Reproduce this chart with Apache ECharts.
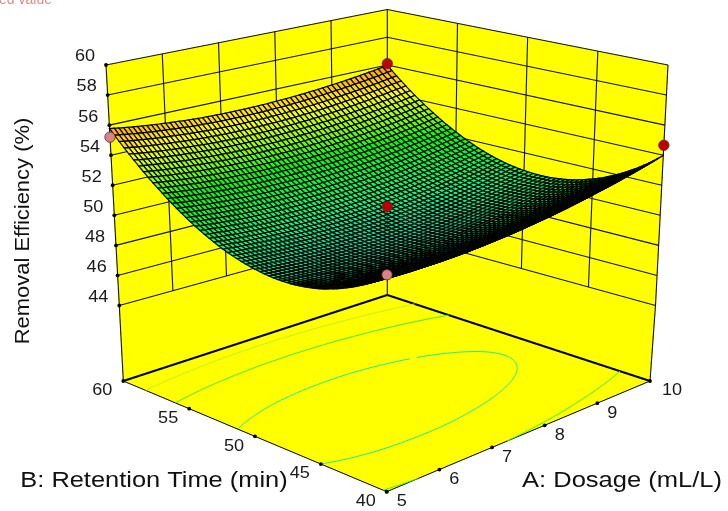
<!DOCTYPE html>
<html><head><meta charset="utf-8">
<style>html,body{margin:0;padding:0;background:#fff}#c{width:728px;height:511px}</style>
<script src="https://cdn.jsdelivr.net/npm/echarts@6/dist/echarts.min.js"></script>
</head><body><div id="c"></div>
<script>
// ---- data ----
const dosageTicks = [5, 6, 7, 8, 9, 10];
const timeTicks = [40, 45, 50, 55, 60];
const efficiencyTicks = [44, 46, 48, 50, 52, 54, 56, 58, 60];
const gridDosage = [5, 5.5, 6, 6.5, 7, 7.5, 8, 8.5, 9, 9.5, 10];
const gridTime = [40, 42, 44, 46, 48, 50, 52, 54, 56, 58, 60];
// one row per gridTime entry, one column per gridDosage entry
const surfaceEfficiency = [
  [52.68,52.52,52.44,52.41,52.45,52.55,52.71,52.93,53.22,53.56,53.98],
  [51.47,51.31,51.21,51.17,51.20,51.29,51.44,51.65,51.93,52.26,52.66],
  [50.61,50.43,50.32,50.28,50.29,50.37,50.51,50.71,50.97,51.30,51.69],
  [50.08,49.89,49.77,49.71,49.72,49.78,49.91,50.10,50.35,50.67,51.05],
  [49.88,49.69,49.56,49.49,49.48,49.53,49.65,49.83,50.07,50.38,50.74],
  [50.03,49.82,49.68,49.59,49.58,49.62,49.73,49.89,50.13,50.42,50.78],
  [50.50,50.29,50.13,50.04,50.01,50.04,50.14,50.30,50.52,50.80,51.14],
  [51.32,51.09,50.92,50.82,50.78,50.80,50.89,51.03,51.24,51.51,51.85],
  [52.47,52.23,52.05,51.94,51.89,51.90,51.97,52.11,52.30,52.56,52.89],
  [53.95,53.70,53.52,53.39,53.33,53.33,53.39,53.51,53.70,53.95,54.26],
  [55.78,55.51,55.32,55.18,55.11,55.10,55.15,55.26,55.44,55.67,55.98]
];
const contourLevels = [50.3, 52.5, 54.2];
const contourColors = ['#10f0a0', '#30f040', '#c0f020'];
const pointDosage = [5, 10, 10, 5, 7.5];
const pointTime = [60, 60, 40, 40, 50];
const pointEfficiency = [55.2, 56.1, 54.66, 52.8, 51.2];
const pointBelow = [1, 0, 0, 1, 0];
const FLOOR = 39, LOW = 44, TOP = 60;

// ---- projection: the box is linear along every edge, so points blend its corners ----
// corner order: [A5 B40], [A10 B40], [A5 B60], [A10 B60]
const cornersFloor = [[386.7,491.7],[650,381],[123.3,381],[387.3,295]];
const cornersLow   = [[387,415],[655.5,305.5],[119.3,305.5],[387.3,231.5]];
const cornersTop   = [[387,160],[668,65],[106,65],[387.3,9.5]];
function blend(c,a,b){
  return [0,1].map(k=>(c[0][k]*(1-a)+c[1][k]*a)*(1-b)+(c[2][k]*(1-a)+c[3][k]*a)*b);
}
function proj(A,B,Z){
  const a=(A-5)/5,b=(B-40)/20;
  const lo=Z<LOW?blend(cornersFloor,a,b):blend(cornersLow,a,b);
  const hi=Z<LOW?blend(cornersLow,a,b):blend(cornersTop,a,b);
  const t=Z<LOW?(Z-FLOOR)/(LOW-FLOOR):(Z-LOW)/(TOP-LOW);
  return [lo[0]*(1-t)+hi[0]*t,lo[1]*(1-t)+hi[1]*t];
}
// smooth reading of the table between its entries, for drawing a fine mesh
function lag(f,x){
  return f[0]*(x-1)*(x-2)*(x-3)/-6+f[1]*x*(x-2)*(x-3)/2+f[2]*x*(x-1)*(x-3)/-2+f[3]*x*(x-1)*(x-2)/6;
}
function tableAt(u,v){
  const n=gridDosage.length,m=gridTime.length;
  const i=Math.max(0,Math.min(n-4,Math.floor(u)-1)),j=Math.max(0,Math.min(m-4,Math.floor(v)-1));
  const col=[0,1,2,3].map(k=>lag(surfaceEfficiency[j+k].slice(i,i+4),u-i));
  return lag(col,v-j);
}
const uOf=A=>(A-gridDosage[0])/(gridDosage[1]-gridDosage[0]);
const vOf=B=>(B-gridTime[0])/(gridTime[1]-gridTime[0]);
const stops=[[49.4,[0,215,170]],[50.3,[0,255,130]],[51.2,[0,255,60]],[52.3,[0,255,0]],[53.2,[130,255,0]],[54.5,[255,255,0]],[56,[255,150,0]]];
function rgb(z){
  if(z<=stops[0][0]) return 'rgb('+stops[0][1].join(',')+')';
  for(let i=1;i<stops.length;i++) if(z<=stops[i][0]){
    const t=(z-stops[i-1][0])/(stops[i][0]-stops[i-1][0]);
    return 'rgb('+stops[i][1].map((c,k)=>Math.round(stops[i-1][1][k]*(1-t)+c*t)).join(',')+')';
  }
  return 'rgb('+stops[stops.length-1][1].join(',')+')';
}

const SUB=6;
const cells=[];
for(let iA=gridDosage.length-2;iA>=0;iA--) for(let iB=gridTime.length-2;iB>=0;iB--) cells.push([iA,iB]);

const ink='#111';
function pt(api,p){ return api.coord(p); }
function seg(api,p,q,w,col){ const a=pt(api,p),b=pt(api,q); return {type:'line',shape:{x1:a[0],y1:a[1],x2:b[0],y2:b[1]},style:{stroke:col||ink,lineWidth:w}}; }
function seg3(api,p,q,w,col){ return seg(api,proj(p[0],p[1],p[2]),proj(q[0],q[1],q[2]),w,col); }
function dot(api,p,r){ const a=pt(api,p); return {type:'circle',shape:{cx:a[0],cy:a[1],r:r},style:{fill:'#000'}}; }
function label(api,p,text,dx,dy){ const a=pt(api,p); return {type:'text',x:a[0]+dx,y:a[1]+dy,scaleX:1.13,style:{x:0,y:0,text:String(text),fill:'#1a1a1a',font:'16px "Liberation Sans"',align:'center',verticalAlign:'middle'}}; }

const base={type:'custom',coordinateSystem:'cartesian2d',silent:true,clip:false,animation:false};

const series=[
  // yellow floor and walls
  Object.assign({},base,{data:[0],z:1,renderItem(_,api){
    const poly=(ps)=>({type:'polygon',shape:{points:ps.map(p=>pt(api,proj(p[0],p[1],p[2])))},style:{fill:'#ffff00',stroke:'#ffff00',lineWidth:.5}});
    return {type:'group',children:[
      poly([[5,60,FLOOR],[10,60,FLOOR],[10,40,FLOOR],[5,40,FLOOR]]),
      poly([[5,60,FLOOR],[10,60,FLOOR],[10,60,LOW],[5,60,LOW]]),
      poly([[5,60,LOW],[10,60,LOW],[10,60,TOP],[5,60,TOP]]),
      poly([[10,60,FLOOR],[10,40,FLOOR],[10,40,LOW],[10,60,LOW]]),
      poly([[10,60,LOW],[10,40,LOW],[10,40,TOP],[10,60,TOP]])
    ]};
  }}),
  // wall grid
  Object.assign({},base,{data:efficiencyTicks,z:2,renderItem(p,api){
    const z=efficiencyTicks[p.dataIndex];
    return {type:'group',children:[seg3(api,[5,60,z],[10,60,z],1.1),seg3(api,[10,60,z],[10,40,z],1.1)]};
  }}),
  Object.assign({},base,{data:dosageTicks.slice(1,-1),z:2,renderItem(p,api){
    const A=dosageTicks[p.dataIndex+1]; return seg3(api,[A,60,LOW],[A,60,TOP],1.1);
  }}),
  Object.assign({},base,{data:timeTicks.slice(1,-1),z:2,renderItem(p,api){
    const B=timeTicks[p.dataIndex+1]; return seg3(api,[10,B,LOW],[10,B,TOP],1.1);
  }}),
  // box edges
  Object.assign({},base,{data:[0],z:3,renderItem(_,api){
    const kids=[
      seg3(api,[5,60,FLOOR],[10,60,FLOOR],1.9,'#000'),seg3(api,[10,60,FLOOR],[10,40,FLOOR],1.9,'#000'),
      seg3(api,[5,60,FLOOR],[5,40,FLOOR],1,'#000'),seg3(api,[5,40,FLOOR],[10,40,FLOOR],1,'#000')];
    [[5,60],[10,40],[10,60]].forEach(e=>{
      kids.push(seg3(api,[e[0],e[1],FLOOR],[e[0],e[1],LOW],1.1),seg3(api,[e[0],e[1],LOW],[e[0],e[1],TOP],1.1));
    });
    return {type:'group',children:kids};
  }}),
  // contours on the floor
  Object.assign({},base,{data:contourLevels,z:4,renderItem(p,api){
    const lv=contourLevels[p.dataIndex],col=contourColors[p.dataIndex],kids=[];
    const R=10,nA=(gridDosage.length-1)*R,nB=(gridTime.length-1)*R;
    const val=(i,j)=>tableAt(i/R,j/R);
    const pos=(i,j)=>proj(5+5*i/nA,40+20*j/nB,FLOOR);
    for(let i=0;i<nA;i++)for(let j=0;j<nB;j++){
      const v=[val(i,j),val(i+1,j),val(i+1,j+1),val(i,j+1)],c=[[i,j],[i+1,j],[i+1,j+1],[i,j+1]],xs=[];
      for(let k=0;k<4;k++){const m=(k+1)%4; if((v[k]-lv)*(v[m]-lv)<0){const t=(lv-v[k])/(v[m]-v[k]);
        xs.push(pos(c[k][0]+(c[m][0]-c[k][0])*t,c[k][1]+(c[m][1]-c[k][1])*t));}}
      if(xs.length>=2) kids.push(seg(api,xs[0],xs[1],1,col));
      if(xs.length===4) kids.push(seg(api,xs[2],xs[3],1,col));
    }
    return {type:'group',children:kids};
  }}),
  // surface mesh, back to front
  Object.assign({},base,{data:cells,z:5,renderItem(p,api){
    const [iA,iB]=cells[p.dataIndex],kids=[];
    const dA=gridDosage[iA+1]-gridDosage[iA],dB=gridTime[iB+1]-gridTime[iB];
    const at=(s,t)=>pt(api,proj(gridDosage[iA]+dA*s,gridTime[iB]+dB*t,tableAt(iA+s,iB+t)));
    for(let m=SUB-1;m>=0;m--)for(let n=SUB-1;n>=0;n--){
      const s0=m/SUB,s1=(m+1)/SUB,t0=n/SUB,t1=(n+1)/SUB;
      kids.push({type:'polygon',shape:{points:[at(s0,t0),at(s1,t0),at(s1,t1),at(s0,t1)]},
        style:{fill:rgb(tableAt(iA+(s0+s1)/2,iB+(t0+t1)/2)),stroke:'#000',lineWidth:1.2}});
    }
    return {type:'group',children:kids};
  }}),
  // design points
  Object.assign({},base,{data:pointDosage,z:7,renderItem(p,api){
    const i=p.dataIndex,A=pointDosage[i],B=pointTime[i],Z=pointEfficiency[i];
    const c=pt(api,proj(A,B,Z));
    return {type:'group',children:[
      seg(api,proj(A,B,Z),proj(A,B,tableAt(uOf(A),vOf(B))),.7,'#200'),
      {type:'circle',shape:{cx:c[0],cy:c[1],r:5.2},style:{fill:pointBelow[i]?'#d98288':'#c00000',stroke:'#5a2a2a',lineWidth:.8}}
    ]};
  }}),
  // axis ticks and their labels
  Object.assign({},base,{data:efficiencyTicks,z:8,renderItem(p,api){
    const z=efficiencyTicks[p.dataIndex],q=proj(5,60,z);
    return {type:'group',children:[dot(api,q,1.9),label(api,q,z,-21,-8)]};
  }}),
  Object.assign({},base,{data:dosageTicks,z:8,renderItem(p,api){
    const v=dosageTicks[p.dataIndex],q=proj(v,40,FLOOR);
    return {type:'group',children:[dot(api,q,1.9),label(api,q,v,v===10?22:15,10)]};
  }}),
  Object.assign({},base,{data:timeTicks,z:8,renderItem(p,api){
    const v=timeTicks[p.dataIndex],q=proj(5,v,FLOOR);
    return {type:'group',children:[dot(api,q,1.9),label(api,q,v,-21,10)]};
  }})
];

const chart=echarts.init(document.getElementById('c'),null,{renderer:'canvas'});
chart.setOption({
  animation:false,backgroundColor:'#fff',
  grid:{left:0,right:0,top:0,bottom:0},
  xAxis:{type:'value',min:0,max:728,show:false},
  yAxis:{type:'value',min:0,max:511,inverse:true,show:false},
  graphic:[
    {type:'text',x:52,y:7,z:20,style:{text:'Design points below predicted value',fill:'#e08a8a',font:'14px "Liberation Sans"',align:'right',verticalAlign:'bottom'}},
    {type:'text',x:23,y:231,z:20,rotation:Math.PI/2,scaleX:1.046,style:{x:0,y:0,text:'Removal Efficiency (%)',fill:'#111',font:'21px "Liberation Sans"',align:'center',verticalAlign:'middle'}},
    {type:'text',x:154,y:481,z:20,scaleX:1.155,style:{x:0,y:0,text:'B: Retention Time (min)',fill:'#111',font:'22px "Liberation Sans"',align:'center',verticalAlign:'middle'}},
    {type:'text',x:622,y:481,z:20,scaleX:1.16,style:{x:0,y:0,text:'A: Dosage (mL/L)',fill:'#111',font:'22px "Liberation Sans"',align:'center',verticalAlign:'middle'}}
  ],
  series:series
});
</script></body></html>
